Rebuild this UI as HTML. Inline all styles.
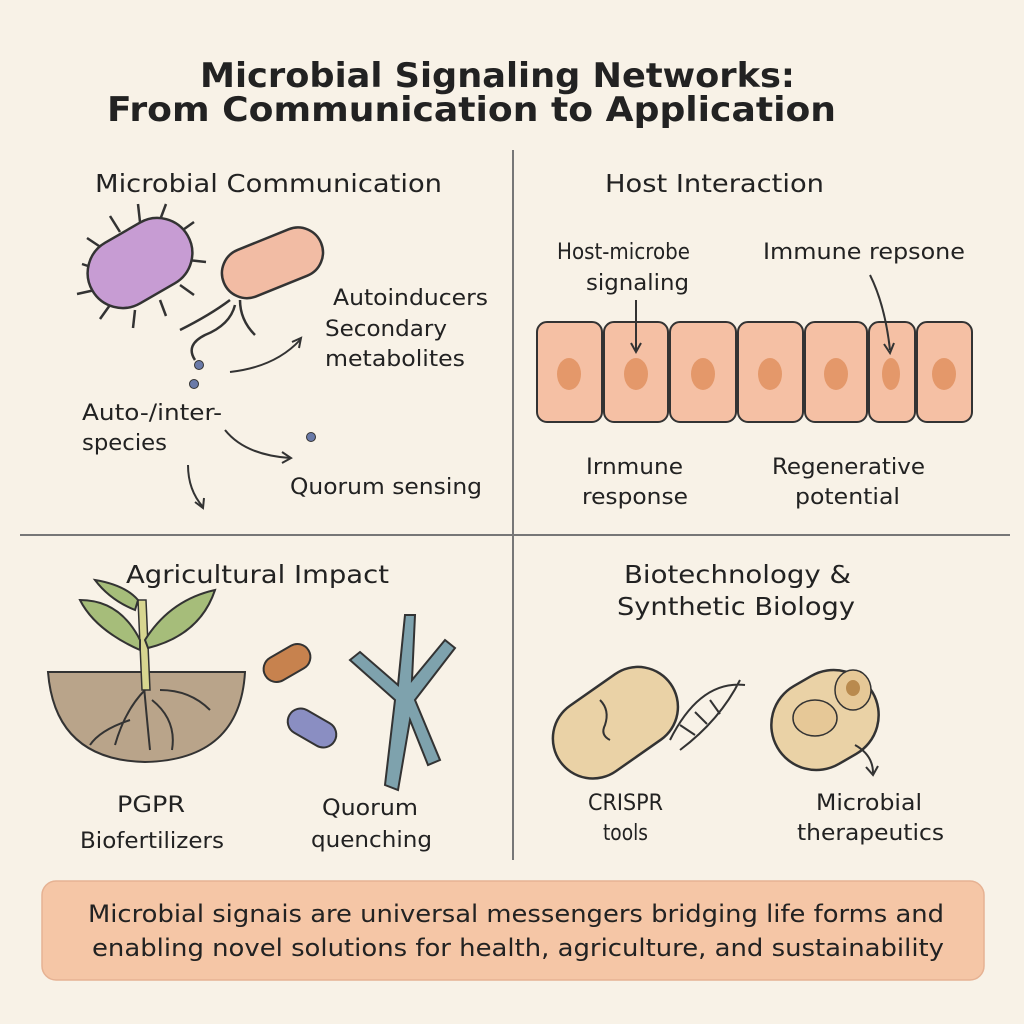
<!DOCTYPE html>
<html><head><meta charset="utf-8"><style>
html,body{margin:0;padding:0;background:#f8f2e7;}
svg{display:block}
text{font-family:"DejaVu Sans","Liberation Sans",sans-serif;fill:#222}
</style></head><body>
<svg width="1024" height="1024" viewBox="0 0 1024 1024" xmlns="http://www.w3.org/2000/svg">
<rect width="1024" height="1024" fill="#f8f2e7"/>
<g lengthAdjust="spacingAndGlyphs">
<text x="200" y="87" font-size="34" font-weight="600" textLength="595" lengthAdjust="spacingAndGlyphs">Microbial Signaling Networks:</text>
<text x="107" y="121" font-size="34" font-weight="600" textLength="729" lengthAdjust="spacingAndGlyphs">From Communication to Application</text>
</g>
<line x1="513" y1="150" x2="513" y2="860" stroke="#777" stroke-width="2"/>
<line x1="20" y1="535" x2="1010" y2="535" stroke="#777" stroke-width="2"/>

<!-- Q1 -->
<text x="95" y="192" font-size="25" textLength="347" lengthAdjust="spacingAndGlyphs">Microbial Communication</text>
<g stroke="#333" stroke-width="2.5" fill="none">
<path d="M100 270 l-18 -6 M105 250 l-18 -12 M120 232 l-10 -16 M140 222 l-2 -18 M160 220 l6 -16 M180 232 l14 -10 M188 260 l18 2 M180 285 l14 10 M160 300 l6 16 M135 310 l-2 18 M110 305 l-10 14 M95 290 l-18 4"/>
<path d="M230 300 q-20 15 -50 30 M235 305 q-5 20 -30 30 q-20 10 -10 25 M240 300 q0 20 15 35"/>
</g>
<rect x="85" y="228" width="110" height="70" rx="35" transform="rotate(-30 140 263)" fill="#c79cd3" stroke="#333" stroke-width="2.5"/>
<rect x="220" y="238" width="105" height="50" rx="25" transform="rotate(-22 272 263)" fill="#f2bca4" stroke="#333" stroke-width="2.5"/>
<circle cx="199" cy="365" r="4.5" fill="#6a7aa8" stroke="#333"/>
<circle cx="194" cy="384" r="4.5" fill="#6a7aa8" stroke="#333"/>
<circle cx="311" cy="437" r="4.5" fill="#6a7aa8" stroke="#333"/>
<g stroke="#333" stroke-width="2" fill="none">
<path d="M230 372 q45 -5 70 -32"/><path d="M292 342 l9 -4 l-2 10"/>
<path d="M225 430 q20 25 65 28"/><path d="M282 452 l9 6 l-9 5"/>
<path d="M188 465 q0 25 15 42"/><path d="M195 502 l8 6 l1 -10"/>
</g>
<text x="333" y="305" font-size="22" textLength="155" lengthAdjust="spacingAndGlyphs">Autoinducers</text>
<text x="325" y="336" font-size="22" textLength="122" lengthAdjust="spacingAndGlyphs">Secondary</text>
<text x="325" y="366" font-size="22" textLength="140" lengthAdjust="spacingAndGlyphs">metabolites</text>
<text x="82" y="420" font-size="22" textLength="140" lengthAdjust="spacingAndGlyphs">Auto-/inter-</text>
<text x="82" y="450" font-size="22" textLength="85" lengthAdjust="spacingAndGlyphs">species</text>
<text x="290" y="494" font-size="22" textLength="192" lengthAdjust="spacingAndGlyphs">Quorum sensing</text>

<!-- Q2 -->
<text x="605" y="192" font-size="25" textLength="219" lengthAdjust="spacingAndGlyphs">Host Interaction</text>
<text x="557" y="259" font-size="22" textLength="133" lengthAdjust="spacingAndGlyphs">Host-microbe</text>
<text x="586" y="290" font-size="22" textLength="103" lengthAdjust="spacingAndGlyphs">signaling</text>
<text x="763" y="259" font-size="22" textLength="202" lengthAdjust="spacingAndGlyphs">Immune repsone</text>
<g fill="#f5c0a4" stroke="#333" stroke-width="2">
<rect x="537" y="322" width="65" height="100" rx="10"/>
<rect x="604" y="322" width="64" height="100" rx="10"/>
<rect x="670" y="322" width="66" height="100" rx="10"/>
<rect x="738" y="322" width="65" height="100" rx="10"/>
<rect x="805" y="322" width="62" height="100" rx="10"/>
<rect x="869" y="322" width="46" height="100" rx="10"/>
<rect x="917" y="322" width="55" height="100" rx="10"/>
</g>
<g fill="#e4986a">
<ellipse cx="569" cy="374" rx="12" ry="16"/><ellipse cx="636" cy="374" rx="12" ry="16"/>
<ellipse cx="703" cy="374" rx="12" ry="16"/><ellipse cx="770" cy="374" rx="12" ry="16"/>
<ellipse cx="836" cy="374" rx="12" ry="16"/><ellipse cx="891" cy="374" rx="9" ry="16"/>
<ellipse cx="944" cy="374" rx="12" ry="16"/>
</g>
<g stroke="#333" stroke-width="2" fill="none">
<path d="M636 300 v50"/><path d="M631 343 l5 9 l5 -9"/>
<path d="M870 275 q15 30 20 75"/><path d="M884 344 l6 9 l4 -10"/>
</g>
<text x="586" y="474" font-size="22" textLength="97" lengthAdjust="spacingAndGlyphs">Irnmune</text>
<text x="582" y="504" font-size="22" textLength="106" lengthAdjust="spacingAndGlyphs">response</text>
<text x="772" y="474" font-size="22" textLength="153" lengthAdjust="spacingAndGlyphs">Regenerative</text>
<text x="795" y="504" font-size="22" textLength="105" lengthAdjust="spacingAndGlyphs">potential</text>

<!-- Q3 -->
<text x="126" y="583" font-size="25" textLength="263" lengthAdjust="spacingAndGlyphs">Agricultural Impact</text>
<path d="M48 672 L245 672 Q240 760 145 762 Q55 760 48 672 Z" fill="#b9a48a" stroke="#333" stroke-width="2"/>
<g stroke="#333" stroke-width="2" fill="none">
<path d="M140 640 q5 60 10 110 M145 690 q-20 20 -30 55 M152 700 q25 20 20 50 M130 720 q-30 10 -40 25 M160 690 q30 0 50 20"/>
</g>
<path d="M138 600 l4 90 l8 0 l-4 -90 z" fill="#d8d690" stroke="#333" stroke-width="1.5"/>
<path d="M140 650 Q95 630 80 600 Q120 600 140 640 Z" fill="#a6bd7a" stroke="#333" stroke-width="2"/>
<path d="M145 640 Q170 600 215 590 Q200 635 148 648 Z" fill="#a6bd7a" stroke="#333" stroke-width="2"/>
<path d="M135 610 Q110 600 95 580 Q125 585 138 600 Z" fill="#a6bd7a" stroke="#333" stroke-width="2"/>
<rect x="262" y="650" width="50" height="26" rx="13" transform="rotate(-30 287 663)" fill="#c7824e" stroke="#333" stroke-width="2"/>
<rect x="286" y="715" width="52" height="26" rx="13" transform="rotate(30 312 728)" fill="#8a8ec2" stroke="#333" stroke-width="2"/>
<path d="M385 785 L395 700 L350 660 L360 652 L398 685 L405 615 L415 615 L412 680 L445 640 L455 648 L415 700 L440 760 L428 765 L410 720 L398 790 Z" fill="#7ea2ad" stroke="#333" stroke-width="2"/>
<text x="117" y="812" font-size="22" textLength="68" lengthAdjust="spacingAndGlyphs">PGPR</text>
<text x="80" y="848" font-size="22" textLength="144" lengthAdjust="spacingAndGlyphs">Biofertilizers</text>
<text x="322" y="815" font-size="22" textLength="96" lengthAdjust="spacingAndGlyphs">Quorum</text>
<text x="311" y="847" font-size="22" textLength="121" lengthAdjust="spacingAndGlyphs">quenching</text>

<!-- Q4 -->
<text x="624" y="583" font-size="25" textLength="227" lengthAdjust="spacingAndGlyphs">Biotechnology &amp;</text>
<text x="617" y="615" font-size="25" textLength="238" lengthAdjust="spacingAndGlyphs">Synthetic Biology</text>
<rect x="548" y="683" width="135" height="80" rx="40" transform="rotate(-35 615 723)" fill="#ead2a6" stroke="#333" stroke-width="2.5"/>
<path d="M600 700 q10 10 5 25 q-5 10 5 15" stroke="#333" stroke-width="2" fill="none"/>
<g stroke="#333" stroke-width="2" fill="none">
<path d="M670 740 q30 -60 75 -55 M680 750 q40 -30 60 -70"/>
<path d="M680 725 l15 10 M695 712 l12 12 M710 700 l10 14"/>
</g>
<rect x="770" y="675" width="110" height="90" rx="45" transform="rotate(-30 825 720)" fill="#ead2a6" stroke="#333" stroke-width="2.5"/>
<ellipse cx="853" cy="690" rx="18" ry="20" fill="#e6c897" stroke="#333" stroke-width="1.5"/>
<ellipse cx="853" cy="688" rx="7" ry="8" fill="#b98a4e"/>
<ellipse cx="815" cy="718" rx="22" ry="18" fill="#e6c897" stroke="#333" stroke-width="1.5"/>
<path d="M855 745 q18 10 18 28" stroke="#333" stroke-width="2" fill="none"/>
<path d="M866 767 l7 8 l5 -9" stroke="#333" stroke-width="2" fill="none"/>
<text x="588" y="810" font-size="22" textLength="75" lengthAdjust="spacingAndGlyphs">CRISPR</text>
<text x="603" y="840" font-size="22" textLength="45" lengthAdjust="spacingAndGlyphs">tools</text>
<text x="816" y="810" font-size="22" textLength="106" lengthAdjust="spacingAndGlyphs">Microbial</text>
<text x="797" y="840" font-size="22" textLength="147" lengthAdjust="spacingAndGlyphs">therapeutics</text>

<rect x="42" y="881" width="942" height="99" rx="14" fill="#f5c6a6" stroke="#e6b293" stroke-width="1.5"/>
<text x="88" y="922" font-size="24" textLength="856" lengthAdjust="spacingAndGlyphs">Microbial signais are universal messengers bridging life forms and</text>
<text x="92" y="956" font-size="24" textLength="852" lengthAdjust="spacingAndGlyphs">enabling novel solutions for health, agriculture, and sustainability</text>
</svg>
</body></html>
